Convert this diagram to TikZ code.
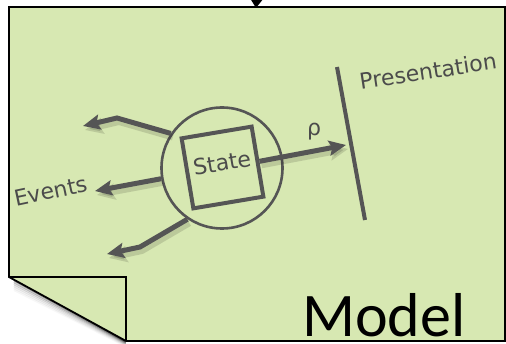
\documentclass[tikz,border=0pt]{standalone}
\usepackage{fontspec}
\newfontfamily\hand{DejaVu Sans}
\newfontfamily\calib{Carlito}
\usetikzlibrary{arrows.meta}
\definecolor{paper}{RGB}{215,232,178}
\definecolor{ink}{RGB}{85,85,85}
\definecolor{txt}{RGB}{75,75,75}
\begin{document}
\begin{tikzpicture}[x=1pt,y=-1pt,
  evarrow/.style={draw=ink, line width=5pt, -{Stealth[length=17pt,width=15pt,inset=3pt]}},
  evshadow/.style={draw=black, opacity=0.13, line width=6pt, -{Stealth[length=18pt,width=16pt,inset=3pt]}},
  lbl/.style={text=txt, inner sep=0pt, font=\hand\fontsize{22}{26}\selectfont},
  border/.style={draw=black, line width=1.8pt}
]
\useasboundingbox (0,0) rectangle (506,344);
% page
\fill[paper] (9,7) -- (505,7) -- (505,341) -- (126,341) -- (9,277) -- cycle;
% fold shadow
\begin{scope}
  \clip (9,277) -- (126,341) -- (126,344) -- (0,344) -- (0,277) -- cycle;
  \foreach \d/\o in {1/0.45,3/0.3,5/0.2,7/0.13,9/0.08,11/0.05,13/0.03}
    \draw[black, opacity=\o, line width=2.2pt] (14,277+\d) -- (126,341+\d*0.4);
\end{scope}
% fold triangle
\fill[paper] (9,277) -- (126,277) -- (126,341) -- cycle;
\draw[border] (9,277) -- (126,277) -- (126,341);
\draw[border, line join=miter] (126,341) -- (505,341) -- (505,7) -- (9,7) -- (9,277) -- (126,341);
% top incoming arrow
\coordinate (topin) at (258,-25);
\coordinate (topend) at (256,8);
\draw[black, line width=2pt, -{Triangle[length=9pt,width=12pt]}] (topin) -- (topend);
% state
\node[circle, draw=ink, line width=2.6pt, minimum size=121pt, inner sep=0pt] (ring) at (222,168) {};
\node[draw=ink, line width=4pt, minimum size=71pt, inner sep=0pt, rotate=9.5] (state) at (222.5,167.5) {};
\node[lbl, rotate=9.5] (stext) at (222,163) {State};
% presentation
\coordinate (p1) at (337,67);
\coordinate (p2) at (365,220);
\draw[ink, line width=4pt] (p1) -- (p2);
\node[lbl, rotate=8.7] (ptext) at (428,71) {Presentation};
% events
\coordinate (e1b) at (117,118); \coordinate (e1) at (83,126);
\coordinate (e2) at (95,191);
\coordinate (e3b) at (140,247); \coordinate (e3) at (107,254);
\coordinate (rhoend) at (346,145);
\begin{scope}[transform canvas={shift={(2pt,-4pt)}}]
  \draw[evshadow] (ring.146) -- (e1b) -- (e1);
  \draw[evshadow] (ring.190) -- (e2);
  \draw[evshadow] (ring.236) -- (e3b) -- (e3);
  \draw[evshadow] (state.east) -- (rhoend);
\end{scope}
\draw[evarrow] (ring.146) -- (e1b) -- (e1);
\draw[evarrow] (ring.190) -- (e2);
\draw[evarrow] (ring.236) -- (e3b) -- (e3);
\draw[evarrow] (state.east) -- (rhoend);
\node[lbl] (rho) at (314,132) {ρ};
\node[lbl, rotate=12] (etext) at (51,191) {Events};
% model
\node[font=\calib\fontsize{62}{70}\selectfont, anchor=base west, inner sep=0pt] (model) at (302,337) {Model};
\end{tikzpicture}
\end{document}
